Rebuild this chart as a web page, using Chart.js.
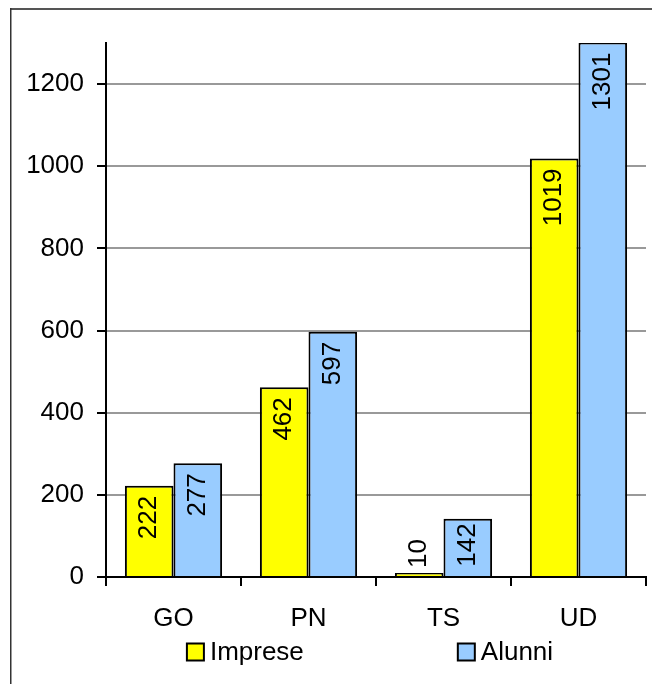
<!DOCTYPE html>
<html>
<head>
<meta charset="utf-8">
<script src="https://cdn.jsdelivr.net/npm/chart.js@4/dist/chart.umd.min.js"></script>
<style>
    html, body { margin: 0; padding: 0; background: #fff; }
    #wrap { width: 652px; height: 684px; }
</style>
</head>
<body>
<div id="wrap"><canvas id="chart" width="652" height="684"></canvas></div>
<script>
// dati
const categories = ['GO', 'PN', 'TS', 'UD'];
const seriesNames = ['Imprese', 'Alunni'];
const imprese = [222, 462, 10, 1019];
const alunni = [277, 597, 142, 1301];
const yTicks = [0, 200, 400, 600, 800, 1000, 1200];
const yMax = 1300;

const FONT = '"Liberation Sans", Arial, sans-serif';
const FONT_SIZE = 26;

// etichette ruotate sulle barre
const barLabels = {
    id: 'barLabels',
    afterDatasetsDraw(chart) {
        const ctx = chart.ctx;
        ctx.save();
        ctx.font = FONT_SIZE + 'px ' + FONT;
        ctx.fillStyle = '#000';
        ctx.textBaseline = 'middle';
        chart.data.datasets.forEach((ds, di) => {
            chart.getDatasetMeta(di).data.forEach((bar, i) => {
                const text = String(ds.data[i]);
                const w = ctx.measureText(text).width;
                const h = bar.base - bar.y;
                ctx.save();
                ctx.translate(bar.x, bar.y);
                ctx.rotate(-Math.PI / 2);
                if (h > w + 8) {
                    // dentro la barra, vicino all'estremità
                    ctx.textAlign = 'right';
                    ctx.fillText(text, -Math.min(10, (h - w) / 3), 0);
                } else {
                    // sopra la barra
                    ctx.textAlign = 'left';
                    ctx.fillText(text, 5, 0);
                }
                ctx.restore();
            });
        });
        ctx.restore();
    }
};

// legenda stile Excel
const legendBoxes = {
    id: 'legendBoxes',
    afterDraw(chart) {
        const ctx = chart.ctx;
        const a = chart.chartArea;
        const box = 17, textGap = 6, itemGap = 154;
        ctx.save();
        ctx.font = FONT_SIZE + 'px ' + FONT;
        const items = chart.data.datasets.map(ds => ({
            text: ds.label,
            color: ds.backgroundColor,
            w: box + textGap + ctx.measureText(ds.label).width
        }));
        const total = items.reduce((s, it) => s + it.w, 0) + itemGap * (items.length - 1);
        let x = (a.left + a.right) / 2 - total / 2 - 6;
        const cy = chart.height - 32;
        items.forEach(it => {
            ctx.fillStyle = it.color;
            ctx.fillRect(x, cy - box / 2, box, box);
            ctx.lineWidth = 2;
            ctx.strokeStyle = '#000';
            ctx.strokeRect(x, cy - box / 2, box, box);
            ctx.fillStyle = '#000';
            ctx.textAlign = 'left';
            ctx.textBaseline = 'middle';
            ctx.fillText(it.text, x + box + textGap, cy + 1);
            x += it.w + itemGap;
        });
        ctx.restore();
    }
};

// cornice esterna
const frame = {
    id: 'frame',
    beforeDraw(chart) {
        const ctx = chart.ctx;
        ctx.save();
        ctx.fillStyle = '#fff';
        ctx.fillRect(0, 0, chart.width, chart.height);
        ctx.fillStyle = '#555';
        ctx.fillRect(10, 8, chart.width - 10, 2);
        ctx.fillStyle = '#333';
        ctx.fillRect(10, 8, 1.5, chart.height - 8);
        ctx.restore();
    }
};

Chart.defaults.font.family = FONT;
Chart.defaults.font.size = FONT_SIZE;
Chart.defaults.color = '#000';

new Chart(document.getElementById('chart'), {
    type: 'bar',
    data: {
        labels: categories,
        datasets: [{
            label: seriesNames[0],
            data: imprese,
            backgroundColor: '#ffff00',
            borderColor: '#000',
            borderWidth: 2,
            categoryPercentage: 0.72,
            barPercentage: 1
        }, {
            label: seriesNames[1],
            data: alunni,
            backgroundColor: '#99ccff',
            borderColor: '#000',
            borderWidth: 2,
            categoryPercentage: 0.72,
            barPercentage: 1
        }]
    },
    options: {
        responsive: false,
        animation: false,
        devicePixelRatio: 1,
        layout: { padding: { left: 0, top: 43, right: 6, bottom: 57 } },
        plugins: {
            legend: { display: false },
            tooltip: { enabled: false }
        },
        scales: {
            y: {
                min: 0,
                max: yMax,
                ticks: {
                    stepSize: 200,
                    padding: 13,
                    color: '#000',
                    callback: v => String(v)
                },
                afterBuildTicks: s => { s.ticks = yTicks.map(v => ({ value: v })); },
                afterFit: s => { s.width = 106; },
                grid: {
                    color: c => (c.tick && c.tick.value === 0) ? '#000' : '#999',
                    tickColor: '#000',
                    lineWidth: 2,
                    tickLength: 9
                },
                border: { color: '#000', width: 2 }
            },
            x: {
                ticks: { padding: 17, color: '#000' },
                afterFit: s => { s.height = 50; },
                grid: {
                    offset: true,
                    drawOnChartArea: false,
                    color: '#000',
                    lineWidth: 2,
                    tickLength: 9
                },
                border: { color: '#000', width: 2 }
            }
        }
    },
    plugins: [frame, barLabels, legendBoxes]
});
</script>
</body>
</html>
